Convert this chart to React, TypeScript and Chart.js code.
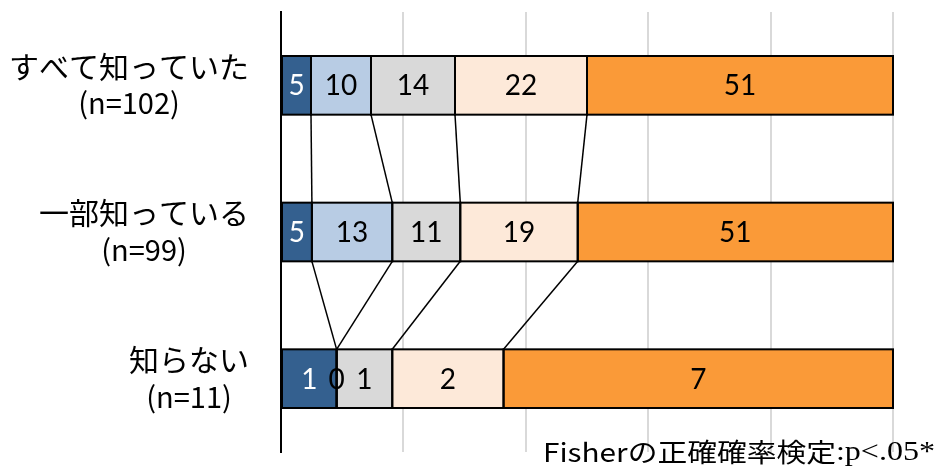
import React, { useEffect, useRef } from "react";
import { Chart, registerables } from "chart.js";

Chart.register(...registerables);

// Row labels: group name and sample size
const groupNames = ["すべて知っていた", "一部知っている", "知らない"];
const groupSizes = ["(n=102)", "(n=99)", "(n=11)"];

// Respondent counts for each answer level, per group
const level1 = [5, 5, 1];
const level2 = [10, 13, 0];
const level3 = [14, 11, 1];
const level4 = [22, 19, 2];
const level5 = [51, 51, 7];
const groupTotals = [102, 99, 11];

const levelFill = ["#34608F", "#B8CCE4", "#D9D9D9", "#FDE9D9", "#FA9A38"];
const levelText = ["#FFFFFF", "#000000", "#000000", "#000000", "#000000"];

const xTickValues = [0, 20, 40, 60, 80, 100];
const noteJa = "Fisherの正確確率検定";
const noteStat = ":p<.05*";

const levels = [level1, level2, level3, level4, level5];

const overlay = {
  id: "overlay",
  afterDatasetsDraw(chart: any) {
    const ctx: CanvasRenderingContext2D = chart.ctx;
    const metas = chart.data.datasets.map((_: any, i: number) => chart.getDatasetMeta(i));
    const rows = groupNames.length;
    const props = (el: any) => el.getProps(["x", "y", "base", "height"], true);
    ctx.save();

    // connectors between matching segment boundaries of neighbouring bars
    ctx.strokeStyle = "#000";
    ctx.lineWidth = 1.5;
    for (let r = 0; r < rows - 1; r++) {
      for (let d = 0; d < metas.length - 1; d++) {
        const a = props(metas[d].data[r]);
        const b = props(metas[d].data[r + 1]);
        ctx.beginPath();
        ctx.moveTo(a.x, a.y + a.height / 2);
        ctx.lineTo(b.x, b.y - b.height / 2);
        ctx.stroke();
      }
    }

    // segment outlines
    ctx.lineWidth = 2;
    metas.forEach((m: any) =>
      m.data.forEach((el: any) => {
        const p = props(el);
        const left = Math.min(p.x, p.base);
        ctx.strokeRect(left, p.y - p.height / 2, Math.abs(p.x - p.base), p.height);
      })
    );

    // count labels in the middle of each segment
    ctx.font = "28px Lato, 'Noto Sans CJK JP', sans-serif";
    ctx.textAlign = "center";
    ctx.textBaseline = "middle";
    metas.forEach((m: any, d: number) =>
      m.data.forEach((el: any, r: number) => {
        const p = props(el);
        ctx.fillStyle = levelText[d];
        ctx.fillText(String(levels[d][r]), (p.x + p.base) / 2, p.y + 1);
      })
    );
    ctx.restore();
  },
  afterDraw(chart: any) {
    const ctx: CanvasRenderingContext2D = chart.ctx;
    const yScale = chart.scales.y;
    const rightEdge = chart.chartArea.left - 32;
    ctx.save();
    ctx.fillStyle = "#000";
    ctx.textBaseline = "middle";
    groupNames.forEach((name, i) => {
      const cy = yScale.getPixelForValue(i);
      ctx.font = "30px 'Noto Sans CJK JP', sans-serif";
      const w = ctx.measureText(name).width;
      ctx.textAlign = "right";
      ctx.fillText(name, rightEdge, cy - 19);
      ctx.font = "29px 'Noto Sans CJK JP', sans-serif";
      ctx.textAlign = "center";
      ctx.fillText(groupSizes[i], rightEdge - w / 2, cy + 18);
    });

    // test note, bottom right
    const fontJa = "26px 'Noto Sans CJK JP', sans-serif";
    const fontSt = "28px 'Liberation Serif', serif";
    ctx.font = fontJa;
    const wJa = ctx.measureText(noteJa).width;
    ctx.font = fontSt;
    const wSt = ctx.measureText(noteStat).width;
    const targetLeft = 543;
    const targetRight = 935;
    const sx = (targetRight - targetLeft) / (wJa + wSt);
    ctx.translate(targetLeft, 452);
    ctx.scale(sx, 1);
    ctx.textAlign = "left";
    ctx.textBaseline = "middle";
    ctx.font = fontJa;
    ctx.fillText(noteJa, 0, 0);
    ctx.font = fontSt;
    ctx.fillText(noteStat, wJa, 1);
    ctx.restore();
  },
};

export default function App() {
  const canvasRef = useRef<HTMLCanvasElement>(null);

  useEffect(() => {
    const canvas = canvasRef.current;
    if (!canvas) return;
    const datasets = levels.map((vals, d) => ({
      label: `level${d + 1}`,
      data: vals.map((v, r) => (v / groupTotals[r]) * 100),
      backgroundColor: levelFill[d],
      borderWidth: 0,
      barPercentage: 0.4,
      categoryPercentage: 1,
    }));
    const chart = new Chart(canvas, {
      type: "bar",
      data: { labels: groupNames, datasets },
      options: {
        indexAxis: "y",
        animation: false,
        responsive: true,
        maintainAspectRatio: false,
        layout: { padding: { left: 281, right: 46, top: 12, bottom: 17 } },
        plugins: { legend: { display: false }, tooltip: { enabled: false } },
        scales: {
          x: {
            stacked: true,
            min: 0,
            max: 100,
            afterBuildTicks: (scale: any) => {
              scale.ticks = xTickValues.map((v) => ({ value: v }));
            },
            ticks: { display: false },
            grid: { color: "#D9D9D9", lineWidth: 2, drawTicks: false },
            border: { display: false },
          },
          y: {
            stacked: true,
            ticks: { display: false },
            grid: { display: false, drawTicks: false },
            border: { display: true, color: "#000000", width: 2 },
          },
        },
      },
      plugins: [overlay],
    });
    return () => chart.destroy();
  }, []);

  return (
    <div style={{ position: "fixed", left: 0, top: 0, width: 939, height: 469, background: "#fff" }}>
      <canvas ref={canvasRef} />
    </div>
  );
}
